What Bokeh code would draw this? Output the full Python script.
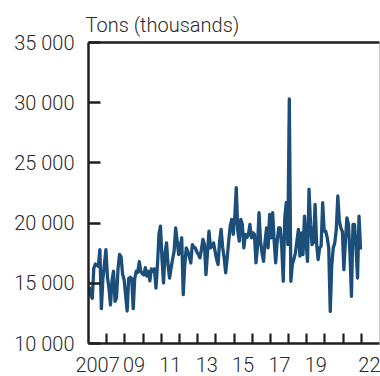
from bokeh.plotting import figure
from bokeh.models import FixedTicker, LinearAxis, Range1d, Title
from bokeh.embed import file_html
from bokeh.resources import INLINE

# Monthly values, tons (thousands)
v2007 = [14700, 14000, 13750, 16250, 16600, 16500, 16400, 17800, 12900, 15400, 16600, 17800]
v2008 = [15500, 14600, 13200, 15200, 16000, 13500, 13800, 16250, 17400, 17200, 15750, 15300]
v2009 = [14000, 12700, 15400, 15500, 15400, 12900, 15400, 16000, 15900, 16800, 16000, 15800]
v2010 = [15700, 16300, 15600, 16000, 15200, 16200, 16000, 16200, 14600, 16500, 19100, 19750]
v2011 = [17000, 15030, 17500, 18360, 16500, 15440, 16280, 17000, 17670, 19610, 18500, 17390]
v2012 = [18000, 18780, 14060, 16500, 17940, 17670, 17200, 16690, 18220, 18000, 17940, 17600]
v2013 = [17390, 17110, 17800, 18640, 18220, 15720, 17500, 19330, 17940, 18100, 18360, 17670]
v2014 = [17000, 16560, 18500, 19470, 18000, 17110, 15860, 17110, 18500, 19750, 20310, 19060]
v2015 = [20500, 22940, 19330, 18500, 20310, 19890, 17940, 19060, 18800, 19060, 19890, 18780]
v2016 = [19200, 19060, 16690, 18000, 20860, 18500, 17500, 16830, 18500, 19610, 17940, 20720]
v2017 = [18780, 20860, 18500, 16690, 18500, 19610, 19610, 18000, 15170, 20440, 21690, 18220]
v2018 = [30310, 15170, 16560, 17000, 17500, 18500, 19470, 17250, 19190, 17390, 20580, 18500]
v2019 = [16830, 22810, 19890, 18220, 18400, 21560, 18300, 16970, 17940, 18100, 21690, 19330]
v2020 = [19330, 18800, 17940, 12670, 16500, 17940, 18360, 19500, 22250, 20170, 19600, 19300]
v2021 = [16140, 18500, 20440, 19890, 17500, 13920, 19890, 19890, 18000, 15440, 20580, 17810]

series = [v2007, v2008, v2009, v2010, v2011, v2012, v2013, v2014,
          v2015, v2016, v2017, v2018, v2019, v2020, v2021]
years = list(range(2007, 2022))

y_ticks = [10000, 15000, 20000, 25000, 30000, 35000]
y_tick_labels = ["10 000", "15 000", "20 000", "25 000", "30 000", "35 000"]
x_label_years = [2007, 2009, 2011, 2013, 2015, 2017, 2019, 2022]
x_tick_labels = ["2007", "09", "11", "13", "15", "17", "19", "22"]
year_ticks = list(range(2008, 2023))
unit_label = "Tons (thousands)"

xs, ys = [], []
for yr, vals in zip(years, series):
    for m, v in enumerate(vals):
        xs.append(yr + (m + 0.5) / 12)
        ys.append(v)

FONT = "Roboto Light, Liberation Sans"
DARK = "#231f20"
TXT = "#2a2a2a"

p = figure(width=380, height=376, output_backend="svg", toolbar_location=None,
           x_range=Range1d(years[0], years[-1] + 2),
           y_range=Range1d(y_ticks[0], y_ticks[-1]),
           min_border_left=88, min_border_right=1, min_border_top=42, min_border_bottom=33)

p.xgrid.visible = False
p.ygrid.visible = False
p.outline_line_color = "#c8c8c8"
p.outline_line_width = 1
p.background_fill_color = "white"
p.border_fill_color = "white"

p.line(xs, ys, line_color="#1b4e79", line_width=3.3, line_join="round")

# y axis
ya = p.yaxis[0]
ya.ticker = FixedTicker(ticks=y_ticks)
ya.major_label_overrides = {t: l for t, l in zip(y_ticks, y_tick_labels)}
ya.axis_line_color = DARK
ya.axis_line_width = 2.5
ya.major_tick_line_color = DARK
ya.major_tick_line_width = 2.5
ya.major_tick_in = 12
ya.major_tick_out = 0
ya.minor_tick_line_color = None
ya.major_label_standoff = 14
ya.major_label_text_font = FONT
ya.major_label_text_font_size = "20px"
ya.major_label_text_color = TXT

# x axis
label_pos = [y + 0.5 for y in x_label_years]
xa = p.xaxis[0]
xa.ticker = FixedTicker(ticks=label_pos, minor_ticks=year_ticks)
xa.major_label_overrides = {t: l for t, l in zip(label_pos, x_tick_labels)}
xa.axis_line_color = DARK
xa.axis_line_width = 2.5
xa.major_tick_line_color = None
xa.minor_tick_line_color = DARK
xa.minor_tick_line_width = 2.2
xa.minor_tick_in = 10
xa.minor_tick_out = 0
xa.major_label_standoff = 7
xa.major_label_text_font = FONT
xa.major_label_text_font_size = "20px"
xa.major_label_text_color = TXT

# top frame line (axis line only)
top = LinearAxis(ticker=FixedTicker(ticks=[]), axis_line_color=DARK, axis_line_width=2.5,
                 major_tick_line_color=None, minor_tick_line_color=None,
                 major_label_text_font_size="0px", major_label_standoff=0)
p.add_layout(top, "above")

p.add_layout(Title(text=unit_label, align="left", offset=-3, standoff=11,
                   text_font=FONT, text_font_size="20px", text_font_style="normal",
                   text_color=TXT, vertical_align="bottom"), "above")

open("out.html", "w").write(file_html(p, INLINE))
